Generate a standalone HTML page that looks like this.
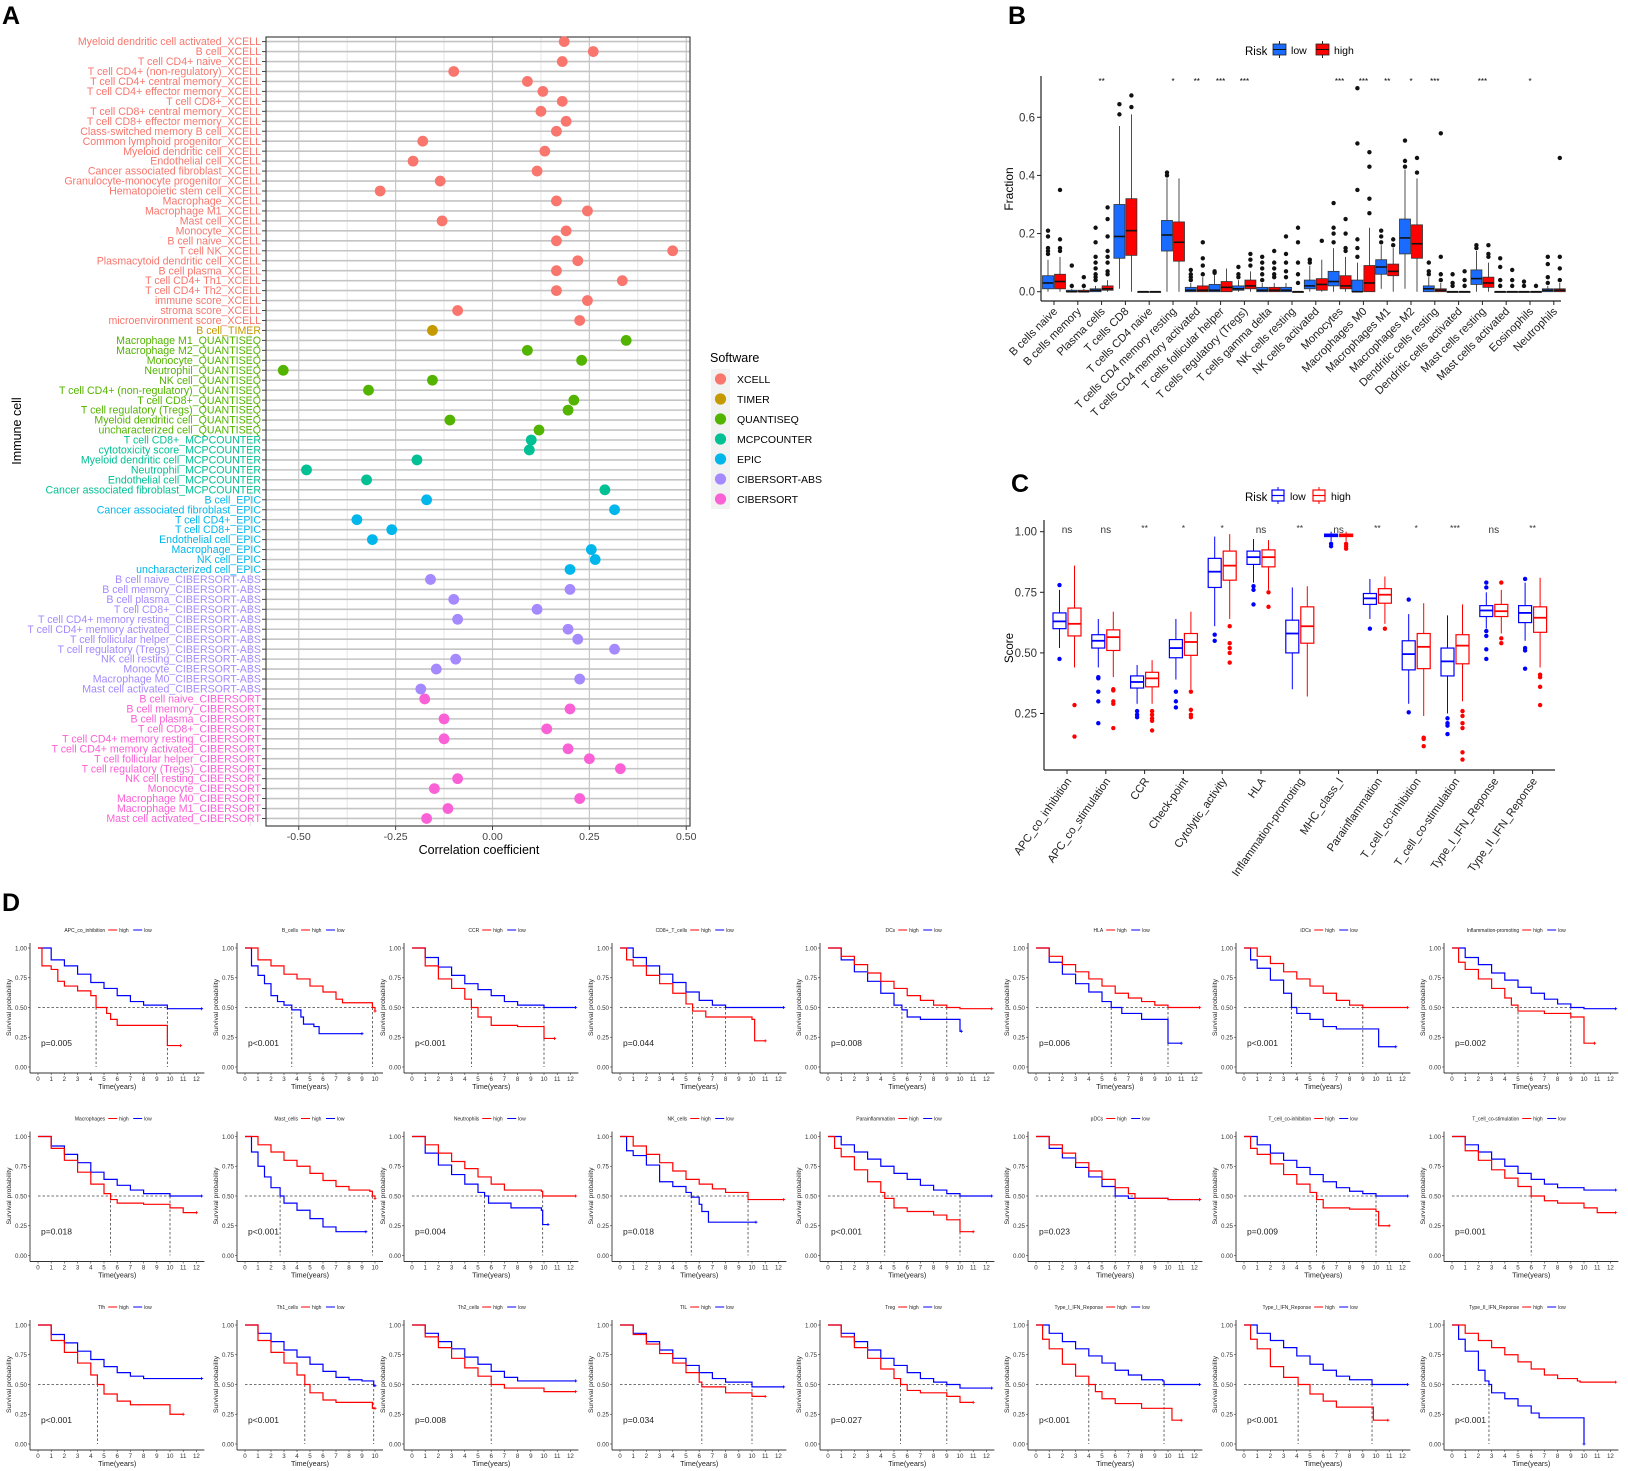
<!DOCTYPE html>
<html><head><meta charset="utf-8"><style>
html,body{margin:0;padding:0;background:#fff;}
svg{display:block;font-family:"Liberation Sans",sans-serif;}
.nar{font-family:"Liberation Sans Narrow","Liberation Sans",sans-serif;}
</style></head><body>
<svg id="fig" width="1628" height="1471" viewBox="0 0 1628 1471" xmlns="http://www.w3.org/2000/svg"></svg>
<script>
// ===== Panel A data =====
const aLabels = ["Myeloid dendritic cell activated_XCELL","B cell_XCELL","T cell CD4+ naive_XCELL","T cell CD4+ (non-regulatory)_XCELL","T cell CD4+ central memory_XCELL","T cell CD4+ effector memory_XCELL","T cell CD8+_XCELL","T cell CD8+ central memory_XCELL","T cell CD8+ effector memory_XCELL","Class-switched memory B cell_XCELL","Common lymphoid progenitor_XCELL","Myeloid dendritic cell_XCELL","Endothelial cell_XCELL","Cancer associated fibroblast_XCELL","Granulocyte-monocyte progenitor_XCELL","Hematopoietic stem cell_XCELL","Macrophage_XCELL","Macrophage M1_XCELL","Mast cell_XCELL","Monocyte_XCELL","B cell naive_XCELL","T cell NK_XCELL","Plasmacytoid dendritic cell_XCELL","B cell plasma_XCELL","T cell CD4+ Th1_XCELL","T cell CD4+ Th2_XCELL","immune score_XCELL","stroma score_XCELL","microenvironment score_XCELL","B cell_TIMER","Macrophage M1_QUANTISEQ","Macrophage M2_QUANTISEQ","Monocyte_QUANTISEQ","Neutrophil_QUANTISEQ","NK cell_QUANTISEQ","T cell CD4+ (non-regulatory)_QUANTISEQ","T cell CD8+_QUANTISEQ","T cell regulatory (Tregs)_QUANTISEQ","Myeloid dendritic cell_QUANTISEQ","uncharacterized cell_QUANTISEQ","T cell CD8+_MCPCOUNTER","cytotoxicity score_MCPCOUNTER","Myeloid dendritic cell_MCPCOUNTER","Neutrophil_MCPCOUNTER","Endothelial cell_MCPCOUNTER","Cancer associated fibroblast_MCPCOUNTER","B cell_EPIC","Cancer associated fibroblast_EPIC","T cell CD4+_EPIC","T cell CD8+_EPIC","Endothelial cell_EPIC","Macrophage_EPIC","NK cell_EPIC","uncharacterized cell_EPIC","B cell naive_CIBERSORT-ABS","B cell memory_CIBERSORT-ABS","B cell plasma_CIBERSORT-ABS","T cell CD8+_CIBERSORT-ABS","T cell CD4+ memory resting_CIBERSORT-ABS","T cell CD4+ memory activated_CIBERSORT-ABS","T cell follicular helper_CIBERSORT-ABS","T cell regulatory (Tregs)_CIBERSORT-ABS","NK cell resting_CIBERSORT-ABS","Monocyte_CIBERSORT-ABS","Macrophage M0_CIBERSORT-ABS","Mast cell activated_CIBERSORT-ABS","B cell naive_CIBERSORT","B cell memory_CIBERSORT","B cell plasma_CIBERSORT","T cell CD8+_CIBERSORT","T cell CD4+ memory resting_CIBERSORT","T cell CD4+ memory activated_CIBERSORT","T cell follicular helper_CIBERSORT","T cell regulatory (Tregs)_CIBERSORT","NK cell resting_CIBERSORT","Monocyte_CIBERSORT","Macrophage M0_CIBERSORT","Macrophage M1_CIBERSORT","Mast cell activated_CIBERSORT"];
const aValues = [0.185,0.26,0.18,-0.10,0.09,0.13,0.18,0.125,0.19,0.165,-0.18,0.135,-0.205,0.115,-0.135,-0.29,0.165,0.245,-0.13,0.19,0.165,0.465,0.22,0.165,0.335,0.165,0.245,-0.09,0.225,
 -0.155,
 0.345,0.09,0.23,-0.54,-0.155,-0.32,0.21,0.195,-0.11,0.12,
 0.10,0.095,-0.195,-0.48,-0.325,0.29,
 -0.17,0.315,-0.35,-0.26,-0.31,0.255,0.265,0.20,
 -0.16,0.20,-0.10,0.115,-0.09,0.195,0.22,0.315,-0.095,-0.145,0.225,-0.185,
 -0.175,0.20,-0.125,0.14,-0.125,0.195,0.25,0.33,-0.09,-0.15,0.225,-0.115,-0.17];
const aSoftware = ["XCELL","TIMER","QUANTISEQ","MCPCOUNTER","EPIC","CIBERSORT-ABS","CIBERSORT"];
const aColors = ["#F8766D","#C49A00","#53B400","#00C094","#00B6EB","#A58AFF","#FB61D7"];
const aTicks = [-0.5,-0.25,0,0.25,0.5];
const aTickLabels = ["-0.50","-0.25","0.00","0.25","0.50"];

// ===== Panel B data =====
const bCats = ["B cells naive","B cells memory","Plasma cells","T cells CD8","T cells CD4 naive","T cells CD4 memory resting","T cells CD4 memory activated","T cells follicular helper","T cells regulatory (Tregs)","T cells gamma delta","NK cells resting","NK cells activated","Monocytes","Macrophages M0","Macrophages M1","Macrophages M2","Dendritic cells resting","Dendritic cells activated","Mast cells resting","Mast cells activated","Eosinophils","Neutrophils"];
// [q1, median, q3, whiskerLow, whiskerHigh]
const bLow = [[.01,.03,.055,0,.11],[0,0,.005,0,.01],[0,.005,.01,0,.02],[.115,.19,.30,.01,.57],[0,0,0,0,0],[.14,.195,.245,0,.39],[0,.005,.015,0,.03],[0,.005,.025,0,.06],[.005,.01,.02,0,.04],[0,.005,.015,0,.03],[0,.005,.015,0,.03],[.01,.02,.04,0,.09],[.02,.035,.07,0,.15],[0,0,.04,0,.1],[.06,.085,.11,.01,.16],[.13,.185,.25,.01,.42],[0,.01,.02,0,.05],[0,0,0,0,0],[.025,.045,.075,0,.14],[0,0,0,0,0],[0,0,0,0,0],[0,.005,.01,0,.02]];
const bHigh = [[.01,.035,.06,0,.12],[0,0,.005,0,.01],[.005,.01,.02,0,.04],[.125,.21,.32,0,.61],[0,0,0,0,0],[.105,.17,.24,0,.39],[0,.005,.02,0,.05],[0,.015,.035,0,.08],[.01,.02,.04,0,.07],[0,.005,.015,0,.03],[0,0,0,0,0],[.005,.025,.045,0,.11],[.01,.02,.055,0,.12],[0,.03,.09,0,.22],[.055,.07,.095,0,.15],[.115,.165,.23,0,.39],[0,.005,.01,0,.03],[0,0,0,0,0],[.015,.03,.05,0,.1],[0,0,0,0,0],[0,0,0,0,0],[0,.005,.01,0,.03]];
const bLowOut = [[.13,.14,.15,.19,.21],[.02,.09],[.04,.05,.06,.08,.1,.12,.17,.22],[.61,.645],[],[.40,.41],[.04,.05,.06,.075],[.065,.07],[.05,.06,.085],[.04,.06,.08,.1,.12],[.05,.07,.1,.13,.19],[.1,.11],[.17,.2,.22,.305],[.12,.15,.18,.35,.51,.70],[.17,.19,.21],[.43,.45,.52],[.06,.07,.1],[.02,.03,.06],[.15,.16],[.02,.04,.085,.115],[.02,.035],[.03,.05,.095,.12]];
const bHighOut = [[.14,.15,.18,.35],[.02,.05],[.06,.07,.1,.12,.14,.19,.25,.29],[.635,.675],[],[],[.06,.09,.115,.17],[],[.09,.11,.13],[.05,.06,.08,.1,.14],[.03,.06,.1,.17,.22],[.175],[.14,.15,.2,.25],[.27,.32,.43,.48],[.16,.18],[.41,.46],[.04,.06,.12,.545],[.02,.04,.07],[.12,.13,.16],[.02,.04,.075],[.02],[.04,.08,.12,.46]];
const bSig = ["","","**","","","*","**","***","***","","","","***","***","**","*","***","","***","","*",""];
const bTicks = [0,0.2,0.4,0.6];
const bTickLabels = ["0.0","0.2","0.4","0.6"];

// ===== Panel C data =====
const cCats = ["APC_co_inhibition","APC_co_stimulation","CCR","Check-point","Cytolytic_activity","HLA","Inflammation-promoting","MHC_class_I","Parainflammation","T_cell_co-inhibition","T_cell_co-stimulation","Type_I_IFN_Reponse","Type_II_IFN_Reponse"];
const cLow = [[.60,.63,.665,.52,.76],[.52,.55,.575,.44,.64],[.355,.38,.405,.29,.45],[.48,.52,.555,.39,.64],[.77,.835,.89,.61,.98],[.865,.895,.92,.79,.97],[.50,.58,.635,.35,.77],[.98,.985,.99,.96,1.0],[.70,.725,.745,.64,.805],[.43,.495,.55,.29,.66],[.405,.465,.52,.25,.655],[.65,.675,.695,.60,.75],[.625,.665,.695,.55,.79]];
const cHigh = [[.57,.62,.685,.44,.86],[.51,.565,.595,.40,.67],[.36,.395,.42,.29,.47],[.49,.545,.58,.35,.67],[.80,.86,.92,.64,.99],[.855,.895,.925,.76,.965],[.54,.61,.69,.32,.775],[.98,.985,.99,.96,1.0],[.705,.74,.765,.62,.815],[.435,.525,.58,.24,.705],[.455,.53,.575,.30,.70],[.65,.672,.70,.58,.76],[.585,.645,.69,.44,.81]];
const cLowOut = [[.475,.78],[.40,.395,.34,.30,.21],[.26,.245,.235],[.34,.30,.275],[.575,.55],[.775,.76,.70],[],[.95,.94],[.60],[.72,.255],[.23,.21,.20,.165],[.79,.77,.59,.57,.515,.475],[.805,.52,.51,.435]];
const cHighOut = [[.285,.155],[.35,.345,.30,.29,.19],[.26,.245,.23,.22,.18],[.34,.265,.245,.235],[.61,.54,.52,.50,.46],[.75,.69],[],[.95,.94,.93],[.60],[.15,.145,.115],[.26,.24,.21,.19,.09,.06],[.79,.56,.54],[.41,.40,.36,.285]];
const cSig = ["ns","ns","**","*","*","ns","**","ns","**","*","***","ns","**"];
const cTicks = [0.25,0.5,0.75,1.0];
const cTickLabels = ["0.25","0.50","0.75","1.00"];

// ===== Panel D data (Kaplan-Meier knots: [time, survival]) =====
const kmNames = ["APC_co_inhibition","B_cells","CCR","CD8+_T_cells","DCs","HLA","iDCs","Inflammation-promoting","Macrophages","Mast_cells","Neutrophils","NK_cells","Parainflammation","pDCs","T_cell_co-inhibition","T_cell_co-stimulation","Tfh","Th1_cells","Th2_cells","TIL","Treg","Type_I_IFN_Reponse","Type_I_IFN_Reponse","Type_II_IFN_Reponse"];
const kmTmax = [12,10,12,12,12,12,12,12,12,10,12,12,12,12,12,12,12,10,12,12,12,12,12,12];
const kmP = ["p=0.005","p<0.001","p<0.001","p=0.044","p=0.008","p=0.006","p<0.001","p=0.002","p=0.018","p<0.001","p=0.004","p=0.018","p<0.001","p=0.023","p=0.009","p=0.001","p<0.001","p<0.001","p=0.008","p=0.034","p=0.027","p<0.001","p<0.001","p<0.001"];
const kmHigh = [
 [[0,1],[0.3,.85],[1,.82],[1.5,.72],[2,.68],[3,.64],[4,.6],[4.4,.5],[5.2,.45],[5.5,.4],[6,.35],[9.8,.35],[9.8,.18],[10.8,.18]],
 [[0,1],[1,.9],[2,.85],[3,.78],[4,.74],[5,.68],[6,.63],[7,.57],[7.5,.54],[9.6,.54],[9.8,.5],[10,.47]],
 [[0,1],[1,.85],[2,.74],[3,.66],[4,.57],[4.5,.5],[5,.42],[6,.35],[8,.34],[10,.34],[10,.24],[10.8,.24]],
 [[0,1],[0.5,.9],[1,.85],[2,.77],[3,.7],[4,.62],[5,.53],[5.5,.47],[6.5,.42],[10,.4],[10.2,.22],[11,.22]],
 [[0,1],[1,.93],[2,.86],[3,.79],[4,.72],[5,.66],[6,.6],[7,.56],[8,.52],[9,.5],[10,.49],[12.4,.49]],
 [[0,1],[1,.93],[2,.86],[3,.8],[4,.74],[5,.68],[6,.62],[7,.58],[8,.55],[9,.52],[10,.5],[12.4,.5]],
 [[0,1],[1,.93],[2,.87],[3,.8],[4,.74],[5,.68],[6,.62],[7,.56],[8,.52],[9,.5],[12.4,.5]],
 [[0,1],[0.5,.88],[1,.82],[2,.74],[3,.66],[4,.58],[4.5,.52],[5,.47],[7,.45],[9,.42],[10,.4],[10,.2],[10.8,.2]],
 [[0,1],[1,.9],[2,.8],[3,.7],[4,.6],[5,.52],[5.5,.47],[6,.44],[8,.43],[10,.4],[11,.36],[12,.36]],
 [[0,1],[1,.93],[2,.87],[3,.8],[4,.75],[5,.69],[6,.63],[7,.58],[8,.55],[9.6,.54],[9.8,.5],[10,.48]],
 [[0,1],[1,.93],[2,.86],[3,.79],[4,.73],[5,.66],[6,.6],[7,.55],[9.8,.54],[9.9,.5],[12.4,.5]],
 [[0,1],[1,.92],[2,.85],[3,.78],[4,.71],[5,.64],[6,.6],[7,.56],[8,.53],[9.6,.53],[9.7,.47],[12.4,.47]],
 [[0,1],[0.5,.9],[1,.83],[2,.72],[3,.62],[4,.53],[4.3,.48],[5,.4],[6,.37],[8,.34],[9,.3],[10,.2],[11,.2]],
 [[0,1],[1,.93],[2,.86],[3,.78],[4,.71],[5,.64],[6,.57],[7,.52],[7.5,.48],[10,.47],[12.4,.47]],
 [[0,1],[0.5,.9],[1,.85],[2,.77],[3,.68],[4,.6],[5,.53],[5.5,.47],[6,.4],[8,.39],[10,.37],[10.2,.25],[11,.25]],
 [[0,1],[1,.88],[2,.8],[3,.72],[4,.65],[5,.58],[6,.5],[7,.46],[8,.44],[10,.4],[11,.36],[12.4,.36]],
 [[0,1],[1,.87],[2,.77],[3,.68],[4,.58],[4.5,.5],[5,.42],[6,.36],[7,.33],[9,.33],[10,.25],[11,.25]],
 [[0,1],[1,.87],[2,.77],[3,.68],[4,.58],[4.6,.5],[5,.43],[6,.37],[7,.35],[9.6,.35],[9.8,.3],[10,.3]],
 [[0,1],[1,.9],[2,.81],[3,.72],[4,.64],[5,.57],[6,.5],[7,.47],[10,.44],[12.4,.44]],
 [[0,1],[1,.92],[2,.84],[3,.76],[4,.68],[5,.6],[6,.52],[6.2,.48],[8,.43],[10,.4],[11,.4]],
 [[0,1],[1,.9],[2,.81],[3,.72],[4,.63],[5,.55],[5.5,.5],[6,.45],[7,.43],[9,.4],[10,.35],[11,.35]],
 [[0,1],[0.5,.88],[1,.8],[2,.67],[3,.57],[4,.5],[4.5,.44],[5,.38],[6,.34],[8,.3],[10,.3],[10.3,.2],[11,.2]],
 [[0,1],[0.5,.88],[1,.8],[2,.65],[3,.56],[4.1,.5],[5,.42],[6,.36],[7,.31],[9.8,.31],[9.8,.2],[10.9,.2]],
 [[0,1],[1,.93],[2,.87],[3,.81],[4,.75],[5,.69],[6,.63],[7,.58],[8,.55],[9.5,.53],[9.7,.52],[12.4,.52]]
];
const kmLow = [
 [[0,1],[1,.9],[2,.85],[3,.78],[4,.71],[5,.66],[6,.6],[7,.55],[8,.52],[9.7,.52],[9.8,.49],[12.4,.49]],
 [[0,1],[0.5,.85],[1,.77],[1.5,.7],[2,.6],[2.5,.55],[3,.52],[3.6,.48],[4.3,.42],[4.5,.36],[5.3,.34],[5.7,.28],[9,.28]],
 [[0,1],[1,.92],[2,.84],[3,.77],[4,.7],[5,.65],[6,.6],[7,.55],[8,.52],[10,.5],[12.4,.5]],
 [[0,1],[1,.92],[2,.85],[3,.78],[4,.71],[5,.63],[6,.56],[7,.52],[8,.5],[12.4,.5]],
 [[0,1],[1,.9],[2,.8],[3,.72],[4,.62],[5,.52],[5.6,.48],[6,.42],[7,.4],[10,.4],[10,.3],[10.1,.3]],
 [[0,1],[1,.88],[2,.78],[3,.7],[4,.63],[5,.55],[5.7,.5],[6.5,.45],[8,.4],[10,.4],[10,.2],[11,.2]],
 [[0,1],[0.5,.9],[1,.83],[2,.73],[3,.62],[3.6,.5],[4,.45],[5,.4],[6,.34],[7,.32],[10,.32],[10.2,.17],[11.5,.17]],
 [[0,1],[1,.92],[2,.86],[3,.79],[4,.73],[5,.67],[6,.62],[7,.57],[8,.53],[9,.5],[10,.49],[12.4,.49]],
 [[0,1],[1,.92],[2,.85],[3,.78],[4,.7],[5,.64],[6,.59],[7,.55],[8,.52],[10,.5],[12.4,.5]],
 [[0,1],[0.5,.87],[1,.75],[1.5,.66],[2,.57],[2.7,.5],[3,.44],[4,.38],[5,.31],[6,.24],[7,.2],[9.3,.2]],
 [[0,1],[1,.86],[2,.76],[3,.68],[4,.6],[5,.53],[5.5,.5],[5.8,.44],[7.5,.4],[9.8,.38],[9.9,.26],[10.3,.26]],
 [[0,1],[0.5,.88],[1,.84],[2,.76],[3,.62],[4,.58],[5,.53],[5.4,.49],[6,.43],[6.2,.37],[6.7,.28],[10.3,.28]],
 [[0,1],[1,.93],[2,.87],[3,.81],[4,.75],[5,.69],[6,.64],[7,.59],[8,.55],[9,.52],[10,.5],[12.4,.5]],
 [[0,1],[1,.9],[2,.82],[3,.74],[4,.66],[5,.58],[6,.5],[7,.48],[10,.47],[12.4,.47]],
 [[0,1],[1,.93],[2,.86],[3,.8],[4,.74],[5,.68],[6,.62],[7,.57],[8,.54],[9,.52],[10,.5],[12.4,.5]],
 [[0,1],[1,.93],[2,.87],[3,.81],[4,.75],[5,.69],[6,.64],[7,.6],[8,.57],[10,.55],[12.4,.55]],
 [[0,1],[1,.92],[2,.85],[3,.78],[4,.71],[5,.65],[6,.6],[7,.57],[8,.55],[12.4,.55]],
 [[0,1],[1,.93],[2,.86],[3,.79],[4,.73],[5,.67],[6,.61],[7,.56],[8,.54],[9,.53],[9.9,.49],[10,.49]],
 [[0,1],[1,.93],[2,.86],[3,.8],[4,.73],[5,.67],[6,.61],[7,.56],[8,.53],[12.4,.53]],
 [[0,1],[1,.93],[2,.86],[3,.79],[4,.72],[5,.66],[6,.6],[7,.55],[8,.52],[10,.48],[12.4,.48]],
 [[0,1],[1,.93],[2,.86],[3,.79],[4,.72],[5,.66],[6,.6],[7,.55],[8,.52],[9,.5],[10,.47],[12.4,.47]],
 [[0,1],[1,.93],[2,.86],[3,.8],[4,.74],[5,.68],[6,.62],[7,.58],[8,.54],[9.6,.53],[9.7,.5],[12.4,.5]],
 [[0,1],[1,.93],[2,.87],[3,.81],[4,.74],[5,.67],[6,.62],[7,.57],[8,.54],[9.6,.54],[9.7,.5],[12.4,.5]],
 [[0,1],[0.5,.88],[1,.78],[2,.62],[2.5,.53],[2.8,.5],[3,.43],[4,.38],[5,.32],[6,.26],[6.6,.22],[10,.22],[10,0]]
];
const kmYTicks = [0,0.25,0.5,0.75,1];
const kmYLabels = ["0.00","0.25","0.50","0.75","1.00"];

// ===== helpers =====
const NS = "http://www.w3.org/2000/svg";
const svg = document.getElementById('fig');
function mk(tag, attrs, parent){
  const e = document.createElementNS(NS, tag);
  for (const k in attrs) e.setAttribute(k, attrs[k]);
  (parent || svg).appendChild(e);
  return e;
}
function txt(s, attrs, parent){ const t = mk('text', attrs, parent); t.textContent = s; return t; }
function grp(name, parent){
  const g = mk('g', {}, parent);
  
  
  return g;
}

// panel letters
[["A",2,24],["B",1008,24],["C",1011,492],["D",2,911]].forEach(([L,x,y])=>{
  const t = txt(L,{x:x,y:y,'font-size':25,'font-weight':'bold'});
  
  
});

// ===== Panel A =====
(function(){
  const g = grp('panel-a-dot-chart');
  const L = 266, R = 690, T = 37, Bt = 826;
  const xA = v => 492.5 + v*387.5;
  const yA = i => 41.6 + i*9.96;
  mk('rect',{x:L,y:T,width:R-L,height:Bt-T,fill:'#fff',stroke:'none'},g);
  // minor grid
  for (let k=0;k<aTicks.length-1;k++){
    const m = (aTicks[k]+aTicks[k+1])/2;
    mk('line',{x1:xA(m),x2:xA(m),y1:T,y2:Bt,stroke:'#e6e6e6','stroke-width':1},g);
  }
  mk('line',{x1:xA(-0.625),x2:xA(-0.625),y1:T,y2:Bt,stroke:'#e6e6e6'},g);
  aTicks.forEach(v=>mk('line',{x1:xA(v),x2:xA(v),y1:T,y2:Bt,stroke:'#c8c8c8','stroke-width':1.2},g));
  aLabels.forEach((s,i)=>mk('line',{x1:L,x2:R,y1:yA(i),y2:yA(i),stroke:'#c4c4c4','stroke-width':1.6},g));
  mk('rect',{x:L,y:T,width:R-L,height:Bt-T,fill:'none',stroke:'#444','stroke-width':1.2},g);
  const grpIdx = s => aSoftware.indexOf(s.substring(s.lastIndexOf('_')+1));
  aLabels.forEach((s,i)=>{
    const col = aColors[grpIdx(s)];
    const lab = txt(s,{x:261,y:yA(i)+3.6,'text-anchor':'end','font-size':10.6,fill:col,class:'nar'},g);
    
    
    mk('line',{x1:262,x2:L,y1:yA(i),y2:yA(i),stroke:'#444'},g);
    const c = mk('circle',{cx:xA(aValues[i]),cy:yA(i),r:5.4,fill:col},g);
    
    
  });
  aTicks.forEach((v,k)=>{
    mk('line',{x1:xA(v),x2:xA(v),y1:Bt,y2:Bt+4,stroke:'#444'},g);
    const t = txt(aTickLabels[k],{x:xA(v),y:Bt+14,'text-anchor':'middle','font-size':10.5,fill:'#444'},g);
    
    
  });
  const xt = txt('Correlation coefficient',{x:479,y:854,'text-anchor':'middle','font-size':12.5},g);
  
  
  const yt = txt('Immune cell',{x:0,y:0,'text-anchor':'middle','font-size':12.5,transform:'translate(21,431) rotate(-90)'},g);
  
  
  // legend
  const lg = grp('software-legend', g);
  txt('Software',{x:710,y:362,'font-size':12.5},lg);
  aSoftware.forEach((s,k)=>{
    const y = 379 + k*20;
    mk('rect',{x:711,y:y-10,width:19,height:20,fill:'#f2f2f2'},lg);
    const e = mk('circle',{cx:720.5,cy:y,r:5.6,fill:aColors[k]},lg);
    
    
    txt(s,{x:737,y:y+4,'font-size':10.5},lg);
  });
})();

// ===== Panel B =====
(function(){
  const g = grp('panel-b-boxplot');
  const yB = v => 291.7 - v*290.7;
  const xB = i => 1054 + i*23.8;
  const lowCol = '#1A6BFF', highCol = '#FF0000';
  // legend
  txt('Risk',{x:1245,y:55,'font-size':11.5},g);
  [['low',lowCol,1273],['high',highCol,1316]].forEach(([n,c,x])=>{
    const e = mk('rect',{x:x,y:44,width:13,height:11,fill:c,stroke:'#222','stroke-width':0.8},g);
    
    
    mk('line',{x1:x,x2:x+13,y1:49.5,y2:49.5,stroke:'#111','stroke-width':1},g);
    mk('line',{x1:x+6.5,x2:x+6.5,y1:41,y2:44,stroke:'#222'},g);
    mk('line',{x1:x+6.5,x2:x+6.5,y1:55,y2:58,stroke:'#222'},g);
    txt(n,{x:x+18,y:54,'font-size':10.5},g);
  });
  // axes
  mk('line',{x1:1041,x2:1041,y1:76,y2:301,stroke:'#222','stroke-width':1.2},g);
  mk('line',{x1:1041,x2:1561,y1:301,y2:301,stroke:'#222','stroke-width':1.2},g);
  bTicks.forEach((v,k)=>{
    mk('line',{x1:1037,x2:1041,y1:yB(v),y2:yB(v),stroke:'#222'},g);
    const t = txt(bTickLabels[k],{x:1035,y:yB(v)+4,'text-anchor':'end','font-size':11.5,fill:'#333'},g);
    
    
  });
  const yt = txt('Fraction',{x:0,y:0,'text-anchor':'middle','font-size':12,transform:'translate(1013,189) rotate(-90)'},g);
  
  
  function box(cx, s, out, col, name){
    const bg = grp(name, g);
    mk('line',{x1:cx,x2:cx,y1:yB(s[4]),y2:yB(s[3]),stroke:'#222','stroke-width':0.8},bg);
    const r = mk('rect',{x:cx-5.5,y:yB(s[2]),width:11,height:Math.max(yB(s[0])-yB(s[2]),0.8),fill:col,stroke:'#333','stroke-width':0.8},bg);
    
    mk('line',{x1:cx-5.5,x2:cx+5.5,y1:yB(s[1]),y2:yB(s[1]),stroke:'#111','stroke-width':1.6},bg);
    out.forEach(o=>mk('circle',{cx:cx,cy:yB(o),r:2.2,fill:'#111'},bg));
  }
  bCats.forEach((c,i)=>{
    const cx = xB(i);
    box(cx-6, bLow[i], bLowOut[i], lowCol, 'box-low-'+i);
    box(cx+6, bHigh[i], bHighOut[i], highCol, 'box-high-'+i);
    mk('line',{x1:cx,x2:cx,y1:301,y2:305,stroke:'#222'},g);
    const t = txt(c,{x:0,y:0,'text-anchor':'end','font-size':11.2,fill:'#222',transform:`translate(${cx+4},${312}) rotate(-45)`},g);
    
    
    if (bSig[i]) txt(bSig[i],{x:cx,y:84,'text-anchor':'middle','font-size':8},g);
  });
})();

// ===== Panel C =====
(function(){
  const g = grp('panel-c-boxplot');
  const yC = v => 531.7 + (1-v)*242.4;
  const xC = i => 1067 + i*38.8;
  const lowCol = '#0000FF', highCol = '#FF0000';
  txt('Risk',{x:1245,y:501,'font-size':11.5},g);
  [['low',lowCol,1272],['high',highCol,1313]].forEach(([n,c,x])=>{
    const e = mk('rect',{x:x,y:490,width:12,height:11,fill:'#fff',stroke:c,'stroke-width':1.2},g);
    
    
    mk('line',{x1:x,x2:x+12,y1:495.5,y2:495.5,stroke:c,'stroke-width':1.2},g);
    mk('line',{x1:x+6,x2:x+6,y1:487,y2:490,stroke:c},g);
    mk('line',{x1:x+6,x2:x+6,y1:501,y2:504,stroke:c},g);
    txt(n,{x:x+18,y:500,'font-size':10.5},g);
  });
  mk('line',{x1:1044,x2:1044,y1:520,y2:770,stroke:'#222','stroke-width':1.2},g);
  mk('line',{x1:1044,x2:1555,y1:770,y2:770,stroke:'#222','stroke-width':1.2},g);
  cTicks.forEach((v,k)=>{
    mk('line',{x1:1040,x2:1044,y1:yC(v),y2:yC(v),stroke:'#222'},g);
    const t = txt(cTickLabels[k],{x:1037,y:yC(v)+4,'text-anchor':'end','font-size':11.5,fill:'#333'},g);
    
    
  });
  const yt = txt('Score',{x:0,y:0,'text-anchor':'middle','font-size':11.5,transform:'translate(1013,648) rotate(-90)'},g);
  
  
  function box(cx, s, out, col, name){
    const bg = grp(name, g);
    mk('line',{x1:cx,x2:cx,y1:yC(s[4]),y2:yC(s[3]),stroke:col,'stroke-width':1},bg);
    const r = mk('rect',{x:cx-6.5,y:yC(s[2]),width:13,height:Math.max(yC(s[0])-yC(s[2]),1),fill:'#fff',stroke:col,'stroke-width':1.2},bg);
    
    mk('line',{x1:cx-6.5,x2:cx+6.5,y1:yC(s[1]),y2:yC(s[1]),stroke:col,'stroke-width':1.8},bg);
    out.forEach(o=>mk('circle',{cx:cx,cy:yC(o),r:2.2,fill:col},bg));
  }
  cCats.forEach((c,i)=>{
    const cx = xC(i);
    box(cx-7.5, cLow[i], cLowOut[i], lowCol, 'box-low-'+c.toLowerCase());
    box(cx+7.5, cHigh[i], cHighOut[i], highCol, 'box-high-'+c.toLowerCase());
    mk('line',{x1:cx,x2:cx,y1:770,y2:774,stroke:'#222'},g);
    const t = txt(c,{x:0,y:0,'text-anchor':'end','font-size':11.2,fill:'#222',transform:`translate(${cx+5},${781}) rotate(-55)`},g);
    
    
    txt(cSig[i],{x:cx,y:cSig[i]==='ns'?533:531,'text-anchor':'middle','font-size':cSig[i]==='ns'?10:8.5,fill:'#333'},g);
  });
})();

// ===== Panel D =====
(function(){
  const gD = grp('panel-d-survival-curves');
  const axisX = [30,237,404,612,820,1028,1236,1444];
  kmNames.forEach((name,p)=>{
    const row = Math.floor(p/8), col = p%8;
    const g = grp('km-plot-'+(p+1), gD);
    const ax = axisX[col];
    const y1 = 948 + row*188.5, y0 = 1067 + row*188.5;
    const t0 = ax + 8;
    const sc = kmTmax[p]===12 ? 13.2 : 13.0;
    const xT = t => t0 + t*sc;
    const yS = s => y0 - s*(y0-y1);
    const xEnd = xT(kmTmax[p]) + 8;
    // axes
    mk('line',{x1:ax,x2:ax,y1:y1-5,y2:y0+6,stroke:'#333','stroke-width':0.9},g);
    mk('line',{x1:ax,x2:xEnd,y1:y0+6,y2:y0+6,stroke:'#333','stroke-width':0.9},g);
    kmYTicks.forEach((v,k)=>{
      mk('line',{x1:ax-2,x2:ax,y1:yS(v),y2:yS(v),stroke:'#333','stroke-width':0.6},g);
      txt(kmYLabels[k],{x:ax-3,y:yS(v)+2.3,'text-anchor':'end','font-size':6.2,fill:'#333'},g);
    });
    for (let t=0;t<=kmTmax[p];t++){
      mk('line',{x1:xT(t),x2:xT(t),y1:y0+6,y2:y0+8,stroke:'#333','stroke-width':0.6},g);
      txt(String(t),{x:xT(t),y:y0+14,'text-anchor':'middle','font-size':6.2,fill:'#333'},g);
    }
    txt('Time(years)',{x:(ax+xEnd)/2,y:y0+22,'text-anchor':'middle','font-size':7.2,fill:'#222'},g);
    txt('Survival probability',{x:0,y:0,'text-anchor':'middle','font-size':6.8,fill:'#222',transform:`translate(${ax-19},${(y0+y1)/2}) rotate(-90)`},g);
    // title legend
    const cx = (ax+xEnd)/2;
    txt(name,{x:cx-12,y:y1-16,'text-anchor':'end','font-size':5,fill:'#222'},g);
    mk('line',{x1:cx-9,x2:cx,y1:y1-18,y2:y1-18,stroke:'#f00','stroke-width':1},g);
    txt('high',{x:cx+2,y:y1-16,'font-size':5,fill:'#222'},g);
    mk('line',{x1:cx+16,x2:cx+25,y1:y1-18,y2:y1-18,stroke:'#00f','stroke-width':1},g);
    txt('low',{x:cx+27,y:y1-16,'font-size':5,fill:'#222'},g);
    // medians
    const med = d => { for (const k of d) if (k[1] <= 0.5) return k[0]; return null; };
    const mh = med(kmHigh[p]), ml = med(kmLow[p]);
    const mx = Math.max(mh||0, ml||0);
    if (mx>0) mk('line',{x1:t0,x2:xT(mx),y1:yS(0.5),y2:yS(0.5),stroke:'#444','stroke-width':0.8,'stroke-dasharray':'2.5,2'},g);
    [mh,ml].forEach(m=>{ if (m!==null) mk('line',{x1:xT(m),x2:xT(m),y1:yS(0.5),y2:y0,stroke:'#444','stroke-width':0.8,'stroke-dasharray':'2.5,2'},g); });
    // curves
    function curve(d, col, nm){
      let s = `M${xT(d[0][0])},${yS(d[0][1])}`;
      for (let k=1;k<d.length;k++){ s += ` H${xT(d[k][0])} V${yS(d[k][1])}`; }
      const last = d[d.length-1];
      const pth = mk('path',{d:s,fill:'none',stroke:col,'stroke-width':1.2},g);
      
      
      mk('path',{d:`M${xT(last[0])-1.5},${yS(last[1])} h3 M${xT(last[0])},${yS(last[1])-1.5} v3`,stroke:col,'stroke-width':0.8},g);
    }
    curve(kmLow[p], '#0000FF', 'curve-low');
    curve(kmHigh[p], '#FF0000', 'curve-high');
    txt(kmP[p],{x:t0+3,y:yS(0.2)+3,'font-size':8.5,fill:'#222'},g);
  });
})();
</script>
</body></html>
